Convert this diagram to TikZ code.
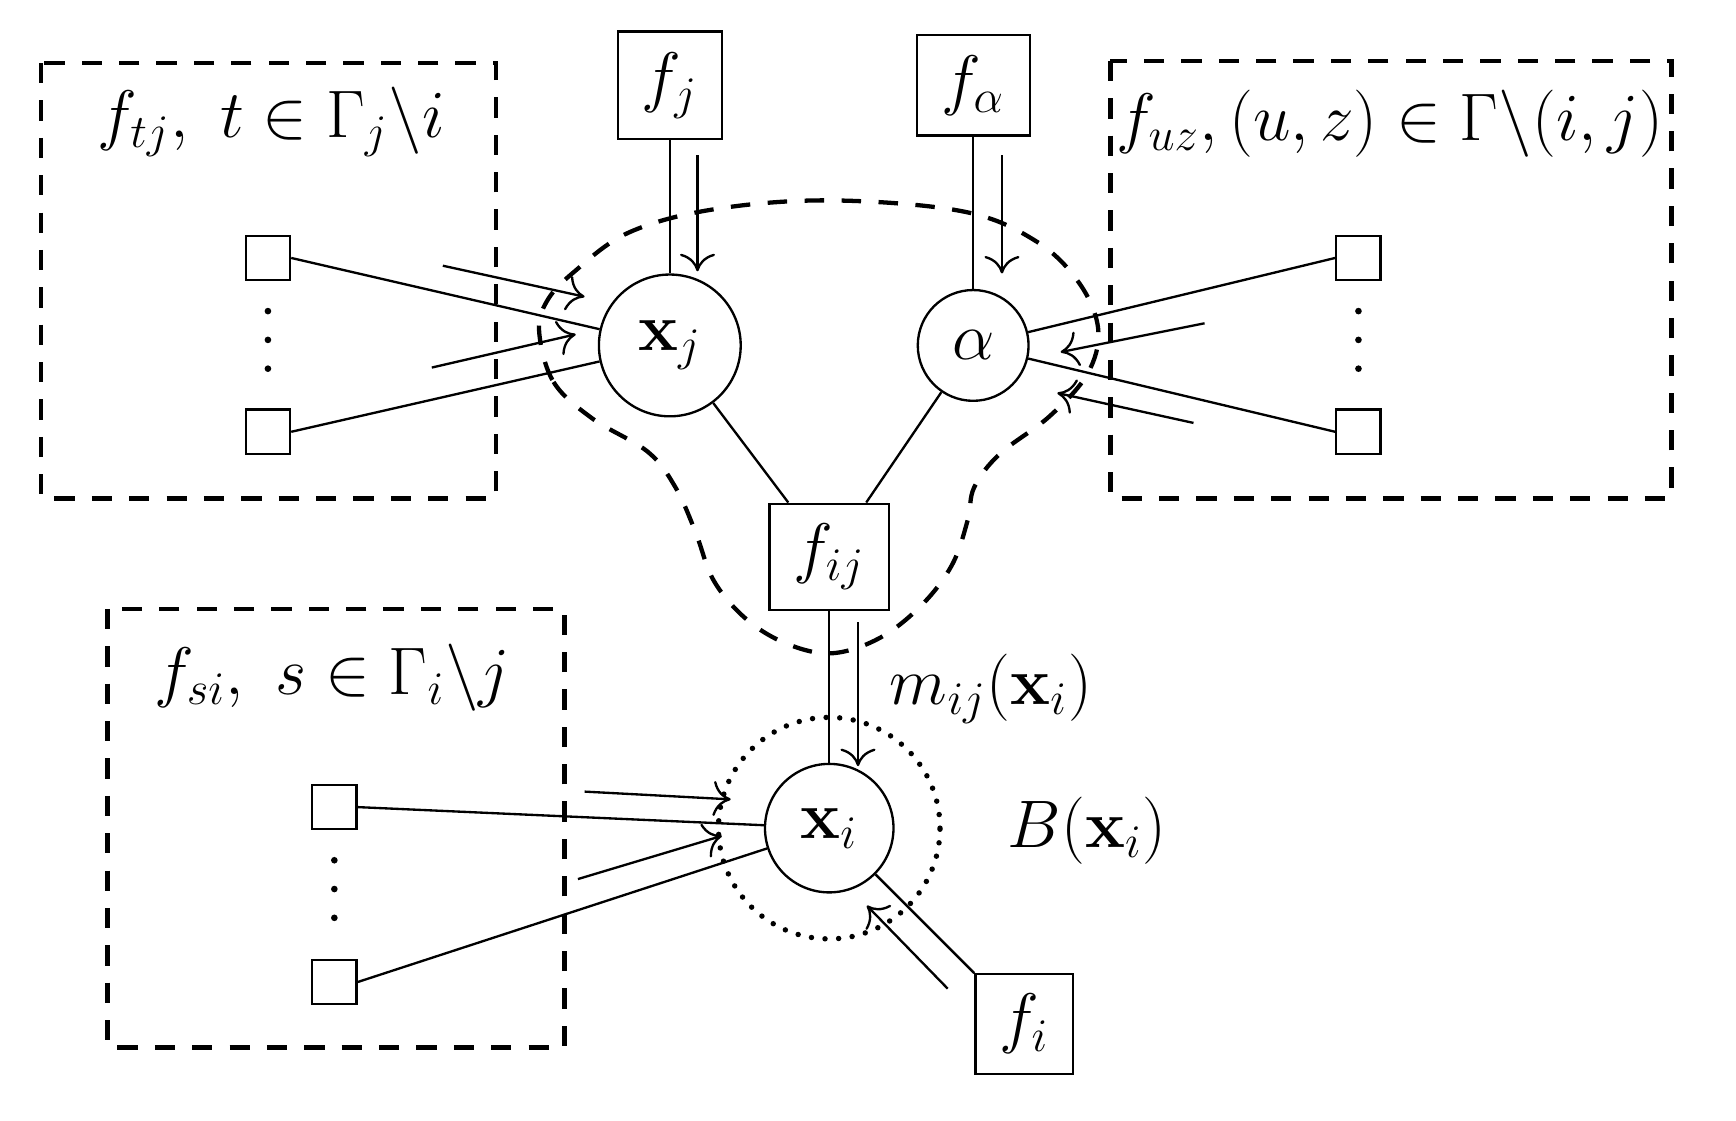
\documentclass[tikz,border=0pt]{standalone}
\usetikzlibrary{arrows.meta,calc}
\begin{document}
\begin{tikzpicture}[x=0.01cm,y=-0.01cm,
  every node/.style={font=\fontsize{17.28}{20}\selectfont},
  fbox/.style={draw, line width=0.6pt, inner sep=0pt},
  vnode/.style={draw, circle, line width=0.6pt, inner sep=0pt},
  sq/.style={draw, line width=0.6pt, minimum size=0.4cm, inner sep=0pt},
  conn/.style={line width=0.6pt},
  msg/.style={line width=0.6pt, -{To[length=4.5pt,width=9pt]}},
  grp/.style={line width=1.2pt, dash pattern=on 5.2pt off 4.4pt},
  blob/.style={line width=1.1pt, dash pattern=on 5pt off 4.5pt},
  dotc/.style={line width=1.4pt, line cap=round, dash pattern=on 0pt off 3.5pt},
  lbl/.style={inner sep=0pt},
  dot/.style={fill, circle, inner sep=0pt, minimum size=0.06cm}
]
\useasboundingbox (0,0) rectangle (1568,1012);

% group boxes
\draw[grp] (37,57) rectangle (448,450);
\draw[grp] (1003,55) rectangle (1510,450);
\draw[grp] (97,550) rectangle (510,946);

% labels
\node[lbl] (ltj) at (245,110) {$f_{tj},\ t\in\Gamma_j\backslash i$};
\node[lbl] (luz) at (1255,112) {$f_{uz},(u,z)\in\Gamma\backslash(i,j)$};
\node[lbl] (lsi) at (300,612) {$f_{si},\ s\in\Gamma_i\backslash j$};
\node[lbl] (lm) at (895,622) {$m_{ij}(\mathbf{x}_i)$};
\node[lbl] (lb) at (982,750) {$B(\mathbf{x}_i)$};

% variable nodes
\node[vnode, minimum size=1.28cm] (xj) at (605,312) {$\mathbf{x}_j$};
\node[vnode, minimum size=1.0cm] (al) at (879,312) {$\alpha$};
\node[vnode, minimum size=1.16cm] (xi) at (749,748) {$\mathbf{x}_i$};

% factor nodes
\node[fbox, minimum width=0.94cm, minimum height=0.97cm] (fj) at (605,77) {$f_j$};
\node[fbox, minimum width=1.02cm, minimum height=0.91cm] (fa) at (879,77) {$f_\alpha$};
\node[fbox, minimum width=1.08cm, minimum height=0.96cm] (fij) at (749,503) {$f_{ij}$};
\node[fbox, minimum width=0.88cm, minimum height=0.90cm] (fi) at (925,925) {$f_i$};

% small squares
\node[sq] (tl1) at (242,233) {};
\node[sq] (tl2) at (242,390) {};
\node[sq] (tr1) at (1227,233) {};
\node[sq] (tr2) at (1227,390) {};
\node[sq] (bl1) at (302,729) {};
\node[sq] (bl2) at (302,887) {};

% vertical dots
\foreach \n/\x/\y in {d1/242/281,d2/242/307,d3/242/333,d4/1227/281,d5/1227/307,d6/1227/333,d7/302/777,d8/302/803,d9/302/829}
  \node[dot] (\n) at (\x,\y) {};

% connectors
\draw[conn] (tl1.east) -- (xj);
\draw[conn] (tl2.east) -- (xj);
\draw[conn] (tr1.west) -- (al);
\draw[conn] (tr2.west) -- (al);
\draw[conn] (bl1.east) -- (xi);
\draw[conn] (bl2.east) -- (xi);
\draw[conn] (fj) -- (xj);
\draw[conn] (fa) -- (al);
\draw[conn] (xj) -- (fij);
\draw[conn] (al) -- (fij);
\draw[conn] (fij) -- (xi);
\draw[conn] (fi.north west) -- (xi);

% message arrows
\coordinate (a1s) at (400,240); \coordinate (a1e) at (528,268);
\coordinate (a2s) at (390,332); \coordinate (a2e) at (520,302);
\coordinate (a3s) at (630,140); \coordinate (a3e) at (630,245);
\coordinate (a4s) at (905,140); \coordinate (a4e) at (905,247);
\coordinate (a5s) at (1088,292); \coordinate (a5e) at (958,318);
\coordinate (a6s) at (1078,382); \coordinate (a6e) at (955,355);
\coordinate (a7s) at (775,562); \coordinate (a7e) at (775,692);
\coordinate (a8s) at (528,715); \coordinate (a8e) at (660,722);
\coordinate (a9s) at (522,794); \coordinate (a9e) at (652,755);
\coordinate (a10s) at (856,893); \coordinate (a10e) at (783,818);
\foreach \k in {1,...,10} \draw[msg] (a\k s) -- (a\k e);

% dashed region around x_j, alpha, f_ij
\draw[blob] plot[smooth cycle, tension=0.6] coordinates {
 (487,300) (500,345) (535,378) (585,408) (610,440) (628,480) (645,525)
 (675,560) (712,582) (752,590) (795,576) (833,546) (860,510) (874,470)
 (880,440) (903,410) (948,376) (982,338) (992,298) (975,256) (936,218)
 (870,191) (750,181) (645,189) (568,210) (518,246) (494,272)};

% dotted circle around x_i
\draw[dotc] (xi.center) circle (1cm);
\end{tikzpicture}
\end{document}
